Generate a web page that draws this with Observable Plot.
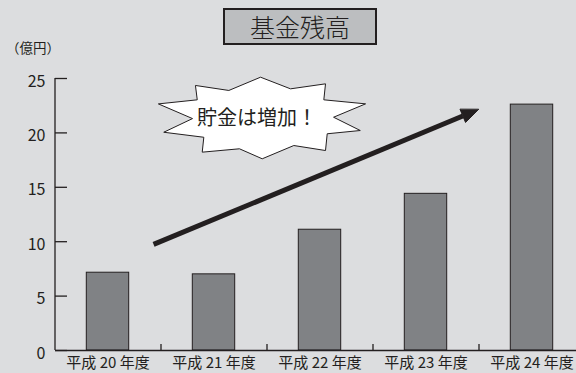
<!DOCTYPE html>
<html><head><meta charset="utf-8">
<script src="https://cdn.jsdelivr.net/npm/d3@7"></script>
<script src="https://cdn.jsdelivr.net/npm/@observablehq/plot@0.6"></script>
<style>
body{margin:0;background:#dcdddf;font-family:"Noto Sans CJK JP",sans-serif;}
#wrap{position:relative;width:576px;height:373px;overflow:hidden;}
#title{position:absolute;left:223px;top:8px;width:150px;height:33px;border:2px solid #231f20;background:#bcbec0;font-size:25px;line-height:33px;text-align:center;color:#231f20;font-weight:300;}
#unit{position:absolute;left:6px;top:39px;font-size:13.5px;line-height:16px;color:#231f20;}
</style></head><body>
<div id="wrap"><div id="chart"></div><div id="title">基金残高</div><div id="unit">（億円）</div></div>
<script>
// categories and values (億円)
const years = ["平成 20 年度", "平成 21 年度", "平成 22 年度", "平成 23 年度", "平成 24 年度"];
const balances = [7.15, 7.0, 11.1, 14.4, 22.6];
const yTicks = [0, 5, 10, 15, 20, 25];
const separators = [0.5, 1.5, 2.5, 3.5];
// callout star outline, in data units (x: category index, y: 億円)
const starX = [0.479, 0.842, 0.825, 1.140, 1.439, 1.722, 2.052, 2.036, 2.430, 2.128, 2.380, 2.068, 2.052, 1.753, 1.455, 1.240, 0.889, 0.904, 0.526, 0.794];
const starY = [22.67, 23.04, 24.36, 23.90, 25.12, 24.05, 24.51, 23.04, 22.67, 21.44, 20.22, 19.92, 18.38, 18.84, 17.62, 18.54, 18.23, 19.60, 20.06, 21.30];
const calloutText = "貯金は増加！";
const calloutAt = [1.405, 21.3];
// trend arrow: shaft start, head base centre, head outline (data units)
const arrowFrom = [0.43, 9.75];
const arrowBase = [3.347, 21.55];
const headX = [3.495, 3.373, 3.322];
const headY = [22.15, 20.96, 22.15];

const ink = "#231f20";
const bars = years.map((name, i) => ({name, i, value: balances[i]}));
const star = starX.map((x, k) => ({x, y: starY[k]}));
const head = headX.map((x, k) => ({x, y: headY[k]}));

const chart = Plot.plot({
  width: 576, height: 373,
  marginTop: 78, marginBottom: 23, marginLeft: 55, marginRight: 0,
  x: {domain: [-0.5, 4.5], range: [54.5, 584.5]},
  y: {domain: [0, 25]},
  style: {background: "#dcdddf", fontFamily: '"Noto Sans CJK JP", sans-serif', color: ink},
  marks: [
    Plot.rectY(bars, {x1: d => d.i - 0.2, x2: d => d.i + 0.2, y1: 0, y2: "value", fill: "#808285", stroke: ink, strokeWidth: 1}),
    Plot.ruleX([-0.5], {stroke: ink, strokeWidth: 1.3}),
    Plot.ruleY([0], {stroke: ink, strokeWidth: 1.3}),
    // inward y ticks (12px long) and upward category separators (6px)
    Plot.tickY(yTicks, {y: d => d, stroke: ink, strokeWidth: 1.3, insetRight: 509}),
    Plot.tickX(separators, {x: d => d, stroke: ink, strokeWidth: 1.3, insetTop: 266}),
    Plot.axisY({ticks: yTicks, tickSize: 0, tickPadding: 10, fontSize: 16, label: null, dy: 3}),
    Plot.axisX({ticks: [0, 1, 2, 3, 4], tickSize: 0, tickPadding: 7, tickFormat: i => years[i], fontSize: 15, label: null}),
    Plot.line(star, {x: "x", y: "y", curve: "linear-closed", fill: "white", stroke: ink, strokeWidth: 1}),
    Plot.text([calloutText], {x: calloutAt[0], y: calloutAt[1], text: d => d, fontSize: 20, fill: ink}),
    Plot.link([0], {x1: arrowFrom[0], y1: arrowFrom[1], x2: arrowBase[0], y2: arrowBase[1], stroke: ink, strokeWidth: 5, strokeLinecap: "butt"}),
    Plot.line(head, {x: "x", y: "y", curve: "linear-closed", fill: ink, stroke: ink, strokeWidth: 1, strokeLinejoin: "miter"})
  ]
});
document.getElementById("chart").appendChild(chart);
</script>
</body></html>
